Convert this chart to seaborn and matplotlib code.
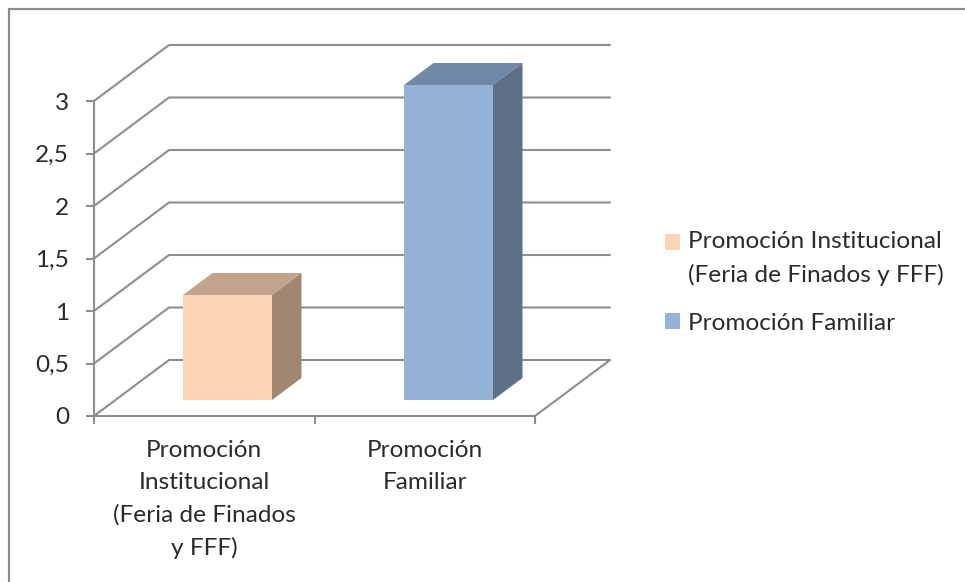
import matplotlib
matplotlib.use("Agg")
import matplotlib.pyplot as plt
from matplotlib.patches import Patch, Polygon, Rectangle
import seaborn as sns
import pandas as pd

categories = ["Promoción Institucional\n(Feria de Finados y FFF)", "Promoción Familiar"]
axis_labels = ["Promoción\nInstitucional\n(Feria de Finados\ny FFF)", "Promoción\nFamiliar"]
values = [1, 3]
y_ticks = [0, 0.5, 1, 1.5, 2, 2.5, 3]
y_tick_labels = ["0", "0,5", "1", "1,5", "2", "2,5", "3"]
front_colors = ["#FCD5B5", "#95B3D7"]
top_colors = ["#C2A48B", "#7088A8"]
side_colors = ["#A38672", "#5E7089"]

W, H = 965, 582
LINE = "#8E8E8E"
TEXT = "#2B2B2B"
FONT = "Lato"
FS = 17.6
sns.set_theme(style="white")
plt.rcParams["font.family"] = FONT

fig = plt.figure(figsize=(W / 100, H / 100), dpi=100, facecolor="white")

def px_axes(l, r, t, b, **kw):
    return fig.add_axes([l / W, 1 - b / H, (r - l) / W, (b - t) / H], **kw)

# outer chart frame (runs off the right and bottom edge)
fig.add_artist(Rectangle((9 / W, -0.1), 1.1, 1 - 8.5 / H + 0.1, transform=fig.transFigure,
                         fill=False, edgecolor="#8A8A8A", linewidth=1.6))

# front plane of the 3D box
ax = px_axes(94, 535, 101, 416, facecolor="none")
ax.set_xlim(-0.5, 1.5)
ax.set_ylim(0, 3)
for s in ["top", "right"]:
    ax.spines[s].set_visible(False)
for s in ["left", "bottom"]:
    ax.spines[s].set_color(LINE)
    ax.spines[s].set_linewidth(1.5)
ax.set_yticks(y_ticks)
ax.set_yticklabels(y_tick_labels, fontsize=FS, color=TEXT)
ax.set_xticks([-0.5, 0.5, 1.5])
ax.set_xticklabels([])
ax.set_xticks([0, 1], labels=axis_labels, minor=True, fontsize=FS, color=TEXT, linespacing=1.62, va="top")
ax.tick_params(axis="x", which="major", length=6, width=1.5, color=LINE, bottom=True)
ax.tick_params(axis="x", which="minor", length=0, pad=17.5, bottom=True)
ax.tick_params(axis="y", length=6, width=1.5, color=LINE, pad=12, left=True)

# receding walls: depth of the box in data units
depth_x, depth_y = 75 / 220.5, 56 / 105
x0, x1 = ax.get_xlim()
for t in y_ticks:
    ax.plot([x0, x0 + depth_x, x1 + depth_x], [t, t + depth_y, t + depth_y],
            color=LINE, lw=1.5, clip_on=False, solid_joinstyle="miter")
ax.plot([x1, x1 + depth_x], [0, depth_y], color=LINE, lw=1.5, clip_on=False)

# bars stand inside the box, on their own axes with the same scale
bx = px_axes(117, 559, 85, 400, facecolor="none")
df = pd.DataFrame({"cat": categories, "val": values})
sns.barplot(data=df, x="cat", y="val", hue="cat", order=categories, hue_order=categories,
            palette=front_colors, dodge=False, width=89 / 221, saturation=1, legend=False,
            ax=bx, edgecolor="none", linewidth=0, zorder=3)
bx.set_xlim(-0.5, 1.5)
bx.set_ylim(0, 3)
bx.axis("off")
dx, dy = 29.5 / 221, 22 / 105
for patch, tc, sc in zip(bx.patches, top_colors, side_colors):
    a, h, w = patch.get_x(), patch.get_height(), patch.get_width()
    bx.add_patch(Polygon([(a, h), (a + w, h), (a + w + dx, h + dy), (a + dx, h + dy)],
                         closed=True, facecolor=tc, edgecolor="none", clip_on=False, zorder=3))
    bx.add_patch(Polygon([(a + w, 0), (a + w + dx, dy), (a + w + dx, h + dy), (a + w, h)],
                         closed=True, facecolor=sc, edgecolor="none", clip_on=False, zorder=3))

handles = [Patch(facecolor=c, edgecolor="none") for c in front_colors]
leg = fig.legend(handles, categories, loc="upper left", bbox_to_anchor=(665 / W, 1 - 231.5 / H),
                 frameon=False, fontsize=FS, labelcolor=TEXT, handlelength=0.62, handleheight=0.62,
                 handletextpad=0.33, labelspacing=1.1, borderaxespad=0, borderpad=0, alignment="left")
for t in leg.get_texts():
    t.set_linespacing(1.62)
# first swatch sits beside the first line of its two-line label
first = leg.legend_handles[0]
first.set_y(first.get_y() + 12)

fig.savefig("out.png", dpi=100)
